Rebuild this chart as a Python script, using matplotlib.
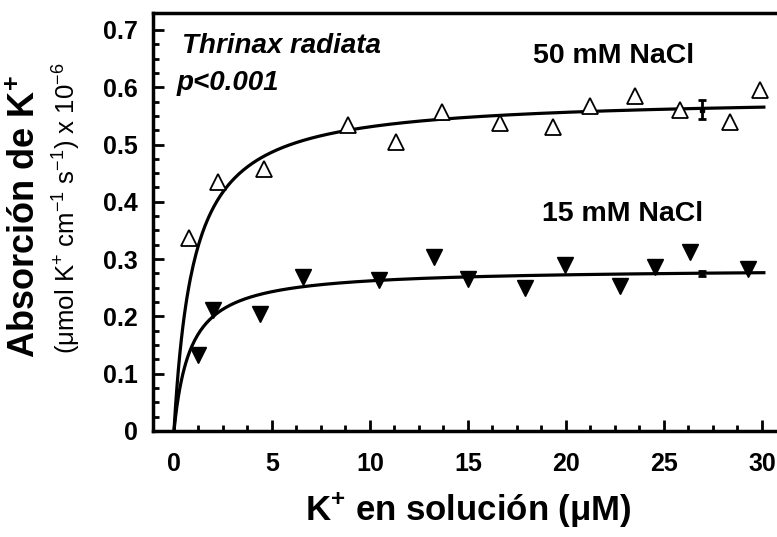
import numpy as np
import matplotlib
matplotlib.use("Agg")
import matplotlib.pyplot as plt

plt.rcParams['font.family'] = ['Liberation Sans', 'DejaVu Sans']
plt.rcParams['mathtext.fontset'] = 'custom'
plt.rcParams['mathtext.rm'] = 'Liberation Sans'
plt.rcParams['mathtext.it'] = 'Liberation Sans:italic'
plt.rcParams['mathtext.bf'] = 'Liberation Sans:bold'
plt.rcParams['mathtext.default'] = 'regular'

# 50 mM NaCl (open triangles)
x50 = [0.78, 2.26, 4.61, 8.86, 11.31, 13.69, 16.65, 19.34, 21.24, 23.54, 25.80, 28.35, 29.88]
y50 = [0.336, 0.435, 0.457, 0.534, 0.505, 0.556, 0.538, 0.531, 0.567, 0.585, 0.560, 0.540, 0.595]
# 15 mM NaCl (filled down triangles)
x15 = [1.24, 2.0, 4.39, 6.6, 10.47, 13.27, 14.98, 17.93, 19.93, 22.74, 24.56, 26.34, 29.27]
y15 = [0.133, 0.212, 0.205, 0.269, 0.264, 0.303, 0.266, 0.249, 0.290, 0.253, 0.287, 0.313, 0.282]
# points with error bars
xerr_pts = [26.94, 26.94]
yerr_pts = [0.561, 0.275]
eerr_pts = [0.016, 0.004]
# Michaelis-Menten fit parameters (Vmax, Km)
fit50 = (0.584, 1.0)
fit15 = (0.284, 0.84)

fig = plt.figure(figsize=(7.77, 5.37), dpi=100)
ax = fig.add_axes([153/777, 106/537, 1 - 153/777, (431-13)/537])

xx = np.linspace(0, 30.1, 400)
for vmax, km in (fit50, fit15):
    ax.plot(xx, vmax*xx/(km+xx), color='black', lw=2.3, zorder=2)

ax.plot(x50, y50, linestyle='none', marker='^', ms=11, mfc='white', mec='black', mew=1.3, zorder=3)
ax.plot(x15, y15, linestyle='none', marker='v', ms=12, mfc='black', mec='black', zorder=3)
ax.errorbar(xerr_pts, yerr_pts, yerr=eerr_pts, fmt='s', ms=3, color='black', capsize=3, elinewidth=2, capthick=2, zorder=4)

ax.set_xlim(-1.07, 30.77)
ax.set_ylim(0, 0.7295)
ax.set_xticks([0, 5, 10, 15, 20, 25, 30])
ax.set_xticks(np.arange(0, 30.01, 1.25), minor=True)
ax.set_yticks([0, 0.1, 0.2, 0.3, 0.4, 0.5, 0.6, 0.7])
ax.set_yticklabels(['0', '0.1', '0.2', '0.3', '0.4', '0.5', '0.6', '0.7'])
ax.set_yticks(np.arange(0, 0.7001, 0.025), minor=True)
ax.tick_params(which='both', direction='in', width=2, labelsize=18)
ax.tick_params(axis='x', which='both', pad=15)
ax.tick_params(axis='y', which='both', pad=11)
ax.tick_params(which='major', length=8)
ax.tick_params(which='minor', length=4)
for lab in ax.get_xticklabels() + ax.get_yticklabels():
    lab.set_fontweight('bold')
for s in ('left', 'bottom', 'top'):
    ax.spines[s].set_linewidth(2.5)
ax.spines['right'].set_visible(False)

ax.text(0.39, 0.660, 'Thrinax radiata', fontsize=20, style='italic', fontweight='bold', va='baseline')
ax.text(0.14, 0.595, 'p<0.001', fontsize=20, style='italic', fontweight='bold', va='baseline')
ax.text(18.3, 0.642, '50 mM NaCl', fontsize=20.5, fontweight='bold', va='baseline')
ax.text(18.8, 0.366, '15 mM NaCl', fontsize=20.5, fontweight='bold', va='baseline')

fig.text(468/777, 1 - 520/537, r'K$^{\mathbf{+}}$ en solución ($\mu$M)', fontsize=25, fontweight='bold', ha='center', va='baseline')
fig.text(26/777, 1 - 217/537, r'Absorción de K$^{\mathbf{+}}$', fontsize=26, fontweight='bold', rotation=90, ha='center', va='center')
fig.text(67/777, 1 - 208/537, r'($\mu$mol K$^{+}$ cm$^{-1}$ s$^{-1}$) x 10$^{-6}$', fontsize=18.5, rotation=90, ha='center', va='center')

fig.savefig('out.png', dpi=100)
